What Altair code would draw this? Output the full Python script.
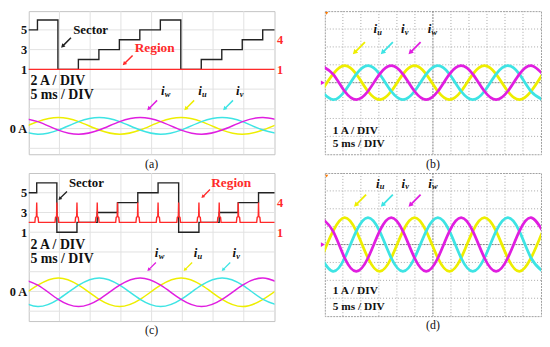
import altair as alt
import pandas as pd

FONT = "Liberation Serif"
YEL, CYA, MAG = "#eeee00", "#3ee4e4", "#e01ee0"
RED, DARK = "#ff2a2a", "#222222"
ARROW = ("M -1 1 L -0.116 0.752 L -0.328 0.54 L 1.106 -0.894 "
         "L 0.894 -1.106 L -0.54 0.328 L -0.752 0.116 Z")
PHASES = ["u", "v", "w"]
PH_COLORS = [YEL, CYA, MAG]
ARROW_KEYS = ["k", "r", "u", "v", "w"]
ARROW_COLORS = [DARK, RED, YEL, CYA, MAG]

# ---------------- panel (a) ----------------
a_sec_t = [0, 1.42, 4.75, 8.08, 11.42, 14.75, 18.08, 21.42, 24.75, 28.08, 31.42, 34.75, 38.08, 40]
a_sec_v = [5, 6, 1, 2, 3, 4, 5, 6, 1, 2, 3, 4, 5, 5]
a_reg_t = [0, 40]
a_reg_v = [1, 1]
a_cur_t = [-1.87, 1.47, 4.8, 8.13, 11.47, 14.8, 18.13, 21.47, 24.8, 28.13, 31.47, 34.8, 38.13, 41.47]
a_iu = [-0.43, 0.43, 0.85, 0.43, -0.43, -0.85, -0.43, 0.43, 0.85, 0.43, -0.43, -0.85, -0.43, 0.43]
a_iv = [-0.43, -0.85, -0.43, 0.43, 0.85, 0.43, -0.43, -0.85, -0.43, 0.43, 0.85, 0.43, -0.43, -0.85]
a_iw = [0.85, 0.43, -0.43, -0.85, -0.43, 0.43, 0.85, 0.43, -0.43, -0.85, -0.43, 0.43, 0.85, 0.43]
a_words_t = [10.07, 20.5]
a_words_s = [5.03, 3.13]
a_div_t = [0.27, 0.27]
a_div_s = [-0.17, -1.57]
a_arrow_t = [6.07, 16.1, 20.09, 26.12, 32.44]
a_arrow_s = [3.7, 1.91, -2.64, -2.64, -2.64]
a_arrow_k = ["k", "r", "w", "u", "v"]
a_ph_t = [21.82, 27.86, 34.02]
a_ph_s = [-1.15, -1.15, -1.15]
a_ph_k = ["w", "u", "v"]

# ---------------- panel (c) ----------------
c_sec_t = [0, 1.3, 4.58, 7.85, 11.15, 14.45, 17.75, 21.05, 24.4, 27.7, 31.0, 34.1, 37.4, 40]
c_sec_v = [5, 6, 1, 2, 3, 4, 5, 6, 1, 2, 3, 4, 5, 5]
c_spike_t = [1.3, 4.58, 7.85, 11.15, 14.45, 17.75, 21.05, 24.4, 27.7, 31.0, 34.1, 37.4]
c_spike_dt = [-0.3, -0.22, -0.05, 0, 0.05, 0.22, 0.3]
c_spike_v = [2, 2.5, 2.6, 4, 2.6, 2.5, 2]
c_reg_base = 2
c_cur_t = a_cur_t
c_iu = [-0.72, 0.72, 1.45, 0.72, -0.72, -1.45, -0.72, 0.72, 1.45, 0.72, -0.72, -1.45, -0.72, 0.72]
c_iv = [-0.72, -1.45, -0.72, 0.72, 1.45, 0.72, -0.72, -1.45, -0.72, 0.72, 1.45, 0.72, -0.72, -1.45]
c_iw = [1.45, 0.72, -0.72, -1.45, -0.72, 0.72, 1.45, 0.72, -0.72, -1.45, -0.72, 0.72, 1.45, 0.72]
c_words_t = [9.39, 32.95]
c_words_s = [5.94, 5.94]
c_div_t = [0.27, 0.27]
c_div_s = [-0.33, -1.73]
c_arrow_t = [5.53, 28.8, 20.0, 25.9, 32.1]
c_arrow_s = [4.7, 4.89, -2.5, -2.5, -2.5]
c_arrow_k = ["k", "r", "w", "u", "v"]
c_ph_t = [20.82, 27.15, 33.47]
c_ph_s = [-1.13, -1.13, -1.13]
c_ph_k = ["w", "u", "v"]

SEC_XGRID = [5, 10, 15, 20, 25, 30, 35]
SEC_YGRID = [5, 3, 1, -1, -3, -5, -7]

# ---------------- panels (b), (d) ----------------
sc_t = [-0.97, 2.27, 5.5, 8.73, 11.97, 15.2, 18.43, 21.67, 24.9, 28.13, 31.37,
        34.6, 37.83, 41.07, 44.3, 47.53, 50.77, 54.0, 57.23, 60.47]
b_iu = [-0.48, 0.48, 0.95, 0.48, -0.48, -0.95, -0.48, 0.48, 0.95, 0.48, -0.48, -0.95, -0.48, 0.48, 0.95, 0.48, -0.48, -0.95, -0.48, 0.48]
b_iv = [-0.48, -0.95, -0.48, 0.48, 0.95, 0.48, -0.48, -0.95, -0.48, 0.48, 0.95, 0.48, -0.48, -0.95, -0.48, 0.48, 0.95, 0.48, -0.48, -0.95]
b_iw = [0.95, 0.48, -0.48, -0.95, -0.48, 0.48, 0.95, 0.48, -0.48, -0.95, -0.48, 0.48, 0.95, 0.48, -0.48, -0.95, -0.48, 0.48, 0.95, 0.48]
d_iu = [-0.75, 0.75, 1.5, 0.75, -0.75, -1.5, -0.75, 0.75, 1.5, 0.75, -0.75, -1.5, -0.75, 0.75, 1.5, 0.75, -0.75, -1.5, -0.75, 0.75]
d_iv = [-0.75, -1.5, -0.75, 0.75, 1.5, 0.75, -0.75, -1.5, -0.75, 0.75, 1.5, 0.75, -0.75, -1.5, -0.75, 0.75, 1.5, 0.75, -0.75, -1.5]
d_iw = [1.5, 0.75, -0.75, -1.5, -0.75, 0.75, 1.5, 0.75, -0.75, -1.5, -0.75, 0.75, 1.5, 0.75, -0.75, -1.5, -0.75, 0.75, 1.5, 0.75]
b_ph_t = [13.97, 21.64, 29.04]
b_ph_i = [3.0, 3.0, 3.0]
b_arrow_t = [9.45, 17.2, 24.9]
b_arrow_i = [1.93, 1.93, 1.93]
b_div_t = [2.2, 2.2]
b_div_i = [-2.69, -3.41]
b_trig = [0.5, 3.88]
d_ph_t = [14.66, 21.78, 29.18]
d_ph_i = [3.41, 3.41, 3.41]
d_arrow_t = [9.77, 17.2, 24.9]
d_arrow_i = [2.45, 2.45, 2.45]
d_div_t = [2.2, 2.2]
d_div_i = [-2.57, -3.5]
d_trig = [0.5, 3.83]
SC_XGRID = [5, 10, 15, 20, 25, 35, 40, 45, 50, 55]
SC_YGRID = [-3, -2, -1, 1, 2, 3]
SC_CX = [30]
SC_CY = [0]
PH_KEYS = ["u", "v", "w"]
DIV_TEXT = {"a": ["2 A / DIV", "5 ms / DIV"], "b": ["1 A / DIV", "5 ms / DIV"]}


def ys(field, dom, axis=None):
    return alt.Y(field, scale=alt.Scale(domain=dom, nice=False, zero=False), axis=axis)


def cur_table(t, iu, iv, iw):
    rows = []
    for key, vals in zip(PHASES, [iu, iv, iw]):
        for tt, v in zip(t, vals):
            rows.append({"t": tt, "i": v, "ph": key})
    return pd.DataFrame(rows)


def cap(text):
    return alt.TitleParams(text, orient="bottom", font=FONT, fontSize=12,
                           fontWeight="normal", color="#111", offset=4,
                           frame="group", anchor="middle")


def phase_labels(xs, yenc, t, y, k):
    df = pd.DataFrame({"t": t, "y": y, "k": k, "i": ["i"] * len(t)})
    base = alt.Chart(df)
    main = base.mark_text(font=FONT, fontSize=13, fontWeight="bold", fontStyle="italic",
                          color="#111", align="center", baseline="middle").encode(
        x=xs, y=yenc, text="i:N")
    sub = base.mark_text(font=FONT, fontSize=8.5, fontWeight="bold", fontStyle="italic",
                         color="#111", align="left", baseline="middle", dx=2, dy=3).encode(
        x=xs, y=yenc, text="k:N")
    return [main, sub]


def arrows(xs, yenc, t, y, k, size):
    df = pd.DataFrame({"t": t, "y": y, "k": k})
    return alt.Chart(df).mark_point(shape=ARROW, filled=True, size=size, opacity=1,
                                    strokeWidth=0).encode(
        x=xs, y=yenc,
        fill=alt.Fill("k:N", scale=alt.Scale(domain=ARROW_KEYS, range=ARROW_COLORS), legend=None))


def sector_panel(sec_t, sec_v, reg_df, cur_df, sdom, cdom, words_t, words_s, div_t, div_s,
                 ar_t, ar_s, ar_k, ph_t, ph_s, ph_k, width, height, caption, arrow_size):
    xs = alt.X("t:Q", scale=alt.Scale(domain=[0, 40], nice=False, zero=False), axis=None)
    gx = alt.Chart(pd.DataFrame({"t": SEC_XGRID})).mark_rule(color="#e2e2e2", strokeWidth=1).encode(x=xs)
    gy = alt.Chart(pd.DataFrame({"s": SEC_YGRID})).mark_rule(color="#e2e2e2", strokeWidth=1).encode(
        y=ys("s:Q", sdom))
    left_axis = alt.Axis(values=[5, 3, 1, -5],
                         labelExpr="datum.value == -5 ? '0 A' : datum.label",
                         ticks=False, domain=False, grid=False, labelFont=FONT,
                         labelFontSize=12.5, labelFontWeight="bold", labelColor="#111",
                         labelPadding=2, title=None, orient="left")
    right_axis = alt.Axis(values=[4, 1], ticks=False, domain=False, grid=False,
                          labelFont=FONT, labelFontSize=12.5, labelFontWeight="bold",
                          labelColor=RED, labelPadding=2, title=None, orient="right")
    sector = alt.Chart(pd.DataFrame({"t": sec_t, "s": sec_v})).mark_line(
        interpolate="step-after", color=DARK, strokeWidth=1.4).encode(
        x=xs, y=ys("s:Q", sdom, left_axis))
    cur = alt.Chart(cur_df).mark_line(interpolate="natural", clip=True, strokeWidth=1.5).encode(
        x=xs, y=ys("i:Q", cdom),
        color=alt.Color("ph:N", scale=alt.Scale(domain=PHASES, range=PH_COLORS), legend=None))
    region = alt.Chart(reg_df).mark_line(color=RED, strokeWidth=1.4).encode(
        x=xs, y=ys("s:Q", sdom, right_axis))
    yann = ys("y:Q", sdom)
    words = pd.DataFrame({"t": words_t, "y": words_s, "w": ["Sector", "Region"]})
    w1 = alt.Chart(words).transform_filter("datum.w == 'Sector'").mark_text(
        font=FONT, fontSize=13, fontWeight="bold", color="#111").encode(x=xs, y=yann, text="w:N")
    w2 = alt.Chart(words).transform_filter("datum.w == 'Region'").mark_text(
        font=FONT, fontSize=13.5, fontWeight="bold", color=RED).encode(x=xs, y=yann, text="w:N")
    divs = alt.Chart(pd.DataFrame({"t": div_t, "y": div_s, "w": DIV_TEXT["a"]})).mark_text(
        font=FONT, fontSize=14, fontWeight="bold", color="#111", align="left").encode(
        x=xs, y=yann, text="w:N")
    layers = [gx, gy, sector, cur, region, w1, w2, divs,
              arrows(xs, yann, ar_t, ar_s, ar_k, arrow_size)] + phase_labels(xs, yann, ph_t, ph_s, ph_k)
    return alt.layer(*layers).resolve_scale(y="independent").properties(
        width=width, height=height, title=cap(caption),
        view=alt.ViewBackground(stroke="#c4c4c4", strokeWidth=1))


def scope_panel(iu, iv, iw, ph_t, ph_i, ar_t, ar_i, div_t, div_i, trig, width, height, caption):
    xs = alt.X("t:Q", scale=alt.Scale(domain=[0, 60], nice=False, zero=False), axis=None)
    yscale = alt.Scale(domain=[-4, 4], nice=False, zero=False)
    yn = alt.Y("y:Q", scale=yscale, axis=None)
    gx = alt.Chart(pd.DataFrame({"t": SC_XGRID})).mark_rule(
        color="#a8a8a8", strokeDash=[1, 2], strokeWidth=1).encode(x=xs)
    gy = alt.Chart(pd.DataFrame({"y": SC_YGRID})).mark_rule(
        color="#a8a8a8", strokeDash=[1, 2], strokeWidth=1).encode(y=yn)
    cx = alt.Chart(pd.DataFrame({"t": SC_CX})).mark_rule(
        color="#808080", strokeDash=[2, 1], strokeWidth=1).encode(x=xs)
    cy = alt.Chart(pd.DataFrame({"y": SC_CY})).mark_rule(
        color="#808080", strokeDash=[2, 1], strokeWidth=1).encode(y=yn)
    yaxis = alt.Axis(values=[0], labelExpr="'0 A'", ticks=False, domain=False, grid=False,
                     labelFont=FONT, labelFontSize=11, labelFontWeight="bold",
                     labelColor="#111", labelPadding=5, title=None)
    cdf = cur_table(sc_t, iu, iv, iw).rename(columns={"i": "y"})
    cur = alt.Chart(cdf).mark_line(interpolate="natural", clip=True, strokeWidth=2.8).encode(
        x=xs, y=alt.Y("y:Q", scale=yscale, axis=yaxis),
        color=alt.Color("ph:N", scale=alt.Scale(domain=PHASES, range=PH_COLORS), legend=None))
    marker = alt.Chart(pd.DataFrame({"t": [0], "y": [0]})).mark_point(
        shape="triangle-right", filled=True, size=22, color=MAG, opacity=1, xOffset=-2).encode(x=xs, y=yn)
    trg = alt.Chart(pd.DataFrame({"t": [trig[0]], "y": [trig[1]]})).mark_point(
        shape="triangle-down", filled=True, size=10, color="#ff7a00", opacity=1).encode(x=xs, y=yn)
    divs = alt.Chart(pd.DataFrame({"t": div_t, "y": div_i, "w": DIV_TEXT["b"]})).mark_text(
        font=FONT, fontSize=11.5, fontWeight="bold", color="#111", align="left").encode(
        x=xs, y=yn, text="w:N")
    layers = [gx, gy, cx, cy, cur, marker, trg, divs,
              arrows(xs, yn, ar_t, ar_i, PH_KEYS, 150)] + phase_labels(xs, yn, ph_t, ph_i, PH_KEYS)
    return alt.layer(*layers).properties(
        width=width, height=height, title=cap(caption),
        view=alt.ViewBackground(stroke="#a0a0a0", strokeWidth=1, strokeDash=[2, 1]))


# region table for (c): baseline with spikes at each sector change
c_reg_rows = [{"t": 0, "s": c_reg_base}]
for ts in c_spike_t:
    for dt, v in zip(c_spike_dt, c_spike_v):
        c_reg_rows.append({"t": ts + dt, "s": v})
c_reg_rows.append({"t": 40, "s": c_reg_base})

pa = sector_panel(a_sec_t, a_sec_v, pd.DataFrame({"t": a_reg_t, "s": a_reg_v}),
                  cur_table(a_cur_t, a_iu, a_iv, a_iw), [-7.6, 6.9], [-2.88, 11.62],
                  a_words_t, a_words_s, a_div_t, a_div_s, a_arrow_t, a_arrow_s, a_arrow_k,
                  a_ph_t, a_ph_s, a_ph_k, 249, 145, "(a)", 100)
pc = sector_panel(c_sec_t, c_sec_v, pd.DataFrame(c_reg_rows),
                  cur_table(c_cur_t, c_iu, c_iv, c_iw), [-8, 7], [-2.92, 12.08],
                  c_words_t, c_words_s, c_div_t, c_div_s, c_arrow_t, c_arrow_s, c_arrow_k,
                  c_ph_t, c_ph_s, c_ph_k, 249, 150, "(c)", 75)
pb = scope_panel(b_iu, b_iv, b_iw, b_ph_t, b_ph_i, b_arrow_t, b_arrow_i, b_div_t, b_div_i,
                 b_trig, 219, 145, "(b)")
pd_ = scope_panel(d_iu, d_iv, d_iw, d_ph_t, d_ph_i, d_arrow_t, d_arrow_i, d_div_t, d_div_i,
                  d_trig, 219, 145, "(d)")

row1 = alt.hconcat(pa, pb, spacing=37)
row2 = alt.hconcat(pc, pd_, spacing=37)
chart = alt.vconcat(row1, row2, spacing=2).properties(padding=0).configure_view(stroke=None)

chart.save("out.html", embed_options={"renderer": "svg", "actions": False})
